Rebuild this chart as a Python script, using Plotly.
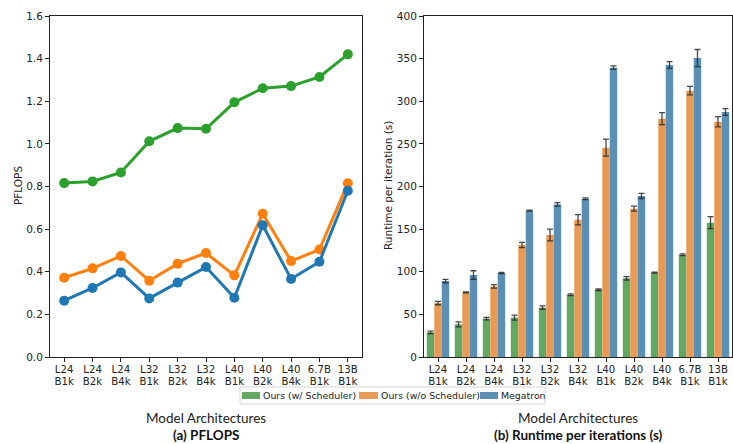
import plotly.graph_objects as go

arch_layers = ["L24", "L24", "L24", "L32", "L32", "L32", "L40", "L40", "L40", "6.7B", "13B"]
arch_batch = ["B1k", "B2k", "B4k", "B1k", "B2k", "B4k", "B1k", "B2k", "B4k", "B1k", "B1k"]
labels = [f"{a} {b}" for a, b in zip(arch_layers, arch_batch)]

# (a) PFLOPS
pflops_sched = [0.816, 0.824, 0.866, 1.012, 1.074, 1.071, 1.195, 1.261, 1.271, 1.314, 1.420]
pflops_nosched = [0.372, 0.416, 0.474, 0.358, 0.438, 0.488, 0.383, 0.672, 0.450, 0.504, 0.815]
pflops_megatron = [0.264, 0.324, 0.397, 0.275, 0.349, 0.422, 0.278, 0.618, 0.366, 0.447, 0.780]

# (b) Runtime per iteration (s)
rt_sched = [28.9, 38.3, 45.0, 46.2, 57.9, 73.1, 79.0, 92.3, 98.9, 120.0, 157.6]
rt_sched_err = [1.5, 3.0, 1.5, 3.0, 2.0, 1.0, 1.0, 2.0, 0.5, 1.0, 7.0]
rt_nosched = [63.3, 75.9, 82.9, 131.4, 143.1, 161.1, 245.6, 174.0, 279.6, 312.4, 276.0]
rt_nosched_err = [2.0, 0.6, 2.0, 3.0, 7.0, 6.0, 10.0, 3.0, 7.0, 5.0, 6.0]
rt_megatron = [89.1, 96.2, 98.5, 171.6, 179.0, 185.7, 339.4, 188.9, 342.5, 350.7, 287.4]
rt_megatron_err = [2.0, 5.0, 0.6, 0.6, 2.0, 1.0, 2.0, 3.0, 4.0, 10.0, 4.0]

series_names = ["Ours (w/ Scheduler)", "Ours (w/o Scheduler)", "Megatron"]
line_colors = ["#2ca02c", "#ff7f0e", "#1f77b4"]
bar_colors = ["#61a861", "#e79a56", "#5b90b4"]

W, H = 733, 444
def fx(px): return px / W
def fy(py): return 1 - py / H

fig = go.Figure()

tick_font = dict(family="DejaVu Sans", size=10.5, color="#222")
xtick_font = dict(family="DejaVu Sans", size=10.2, color="#222")

for vals, col in zip([pflops_sched, pflops_nosched, pflops_megatron], line_colors):
    fig.add_trace(go.Scatter(
        x=labels, y=vals, mode="lines+markers", xaxis="x", yaxis="y",
        line=dict(color=col, width=3), marker=dict(color=col, size=10),
        showlegend=False, cliponaxis=False))

for name, vals, errs, col in zip(series_names,
                                 [rt_sched, rt_nosched, rt_megatron],
                                 [rt_sched_err, rt_nosched_err, rt_megatron_err],
                                 bar_colors):
    fig.add_trace(go.Bar(
        x=labels, y=vals, name=name, xaxis="x2", yaxis="y2",
        marker=dict(color=col, line=dict(width=0)), showlegend=False,
        error_y=dict(type="data", array=errs, color="rgba(40,40,40,0.85)", thickness=1.3, width=3)))

# empty carriers so the overlaying label axes (second label line) get drawn
fig.add_trace(go.Scatter(x=labels, y=pflops_sched, xaxis="x3", yaxis="y", mode="none",
                         hoverinfo="skip", showlegend=False))
fig.add_trace(go.Scatter(x=labels, y=rt_sched, xaxis="x4", yaxis="y2", mode="none",
                         hoverinfo="skip", showlegend=False))

axis_common = dict(showline=True, linecolor="#222", linewidth=1, mirror=True,
                   ticks="outside", ticklen=4, tickcolor="#222",
                   showgrid=False, zeroline=False, automargin=False)

overlay_common = dict(showline=False, ticks="outside", ticklen=4, tickcolor="rgba(0,0,0,0)",
                      tickfont=xtick_font, showgrid=False, zeroline=False, automargin=False,
                      type="category", range=[-0.5, 10.5], tickmode="array",
                      tickvals=labels, ticktext=arch_batch,
                      ticklabelstandoff=11, side="bottom")

# legend drawn as a framed row of colour patches with labels
legend_patch_x = [(242, 260), (359, 378), (480, 498)]
legend_y0, legend_y1 = 392, 399
shapes = [dict(type="rect", xref="paper", yref="paper", x0=fx(240), x1=fx(545),
               y0=fy(404), y1=fy(387), line=dict(color="#d5d5d5", width=1), fillcolor="white", layer="above")]
annotations = []
for (a, b), col, name in zip(legend_patch_x, bar_colors, series_names):
    shapes.append(dict(type="rect", xref="paper", yref="paper", x0=fx(a), x1=fx(b),
                       y0=fy(legend_y1), y1=fy(legend_y0), line=dict(width=0), fillcolor=col, layer="above"))
    annotations.append(dict(text=name, x=fx(b + 0.5), y=fy(395.5), xref="paper", yref="paper",
                            xanchor="left", yanchor="middle", showarrow=False,
                            font=dict(family="DejaVu Sans", size=9.4, color="#222")))

def label(text, x, y, size, family, angle=0, color="#222"):
    return dict(text=text, x=fx(x), y=fy(y), xref="paper", yref="paper",
                xanchor="center", yanchor="middle", textangle=angle, showarrow=False,
                font=dict(family=family, size=size, color=color))

annotations += [
    label("PFLOPS", 18, 186, 10.5, "DejaVu Sans", -90),
    label("Runtime per iteration (s)", 388, 186, 10.5, "DejaVu Sans", -90),
    label("Model Architectures", 206, 418, 13.5, "Lato"),
    label("<b>(a) PFLOPS</b>", 206, 435, 13.5, "Lato", color="#111"),
    label("Model Architectures", 578, 418, 13.5, "Lato"),
    label("<b>(b) Runtime per iterations (s)</b>", 578, 435, 13.5, "Lato", color="#111"),
]

fig.update_layout(
    width=W, height=H, margin=dict(l=0, r=0, t=0, b=0),
    paper_bgcolor="white", plot_bgcolor="white",
    barmode="group", bargap=0.2, bargroupgap=0, showlegend=False,
    xaxis=dict(domain=[fx(50), fx(362)], anchor="y", type="category",
               range=[-0.5, 10.5], tickmode="array", tickvals=labels, ticktext=arch_layers,
               tickfont=xtick_font, ticklabelstandoff=-1, **axis_common),
    yaxis=dict(domain=[fy(357), fy(16)], anchor="x", range=[0, 1.6], dtick=0.2,
               tickformat=".1f", tickfont=tick_font, **axis_common),
    xaxis2=dict(domain=[fx(424), fx(732)], anchor="y2", type="category",
                range=[-0.5, 10.5], tickmode="array", tickvals=labels, ticktext=arch_layers,
                tickfont=xtick_font, ticklabelstandoff=-1, **axis_common),
    yaxis2=dict(domain=[fy(357), fy(16)], anchor="x2", range=[0, 400], dtick=50,
                tickfont=tick_font, **axis_common),
    xaxis3=dict(overlaying="x", anchor="y", **overlay_common),
    xaxis4=dict(overlaying="x2", anchor="y2", **overlay_common),
    shapes=shapes,
    annotations=annotations,
)

fig.write_html("out.html", config={"displayModeBar": False},
               post_script="document.body.style.margin='0';document.body.style.overflow='hidden';")
